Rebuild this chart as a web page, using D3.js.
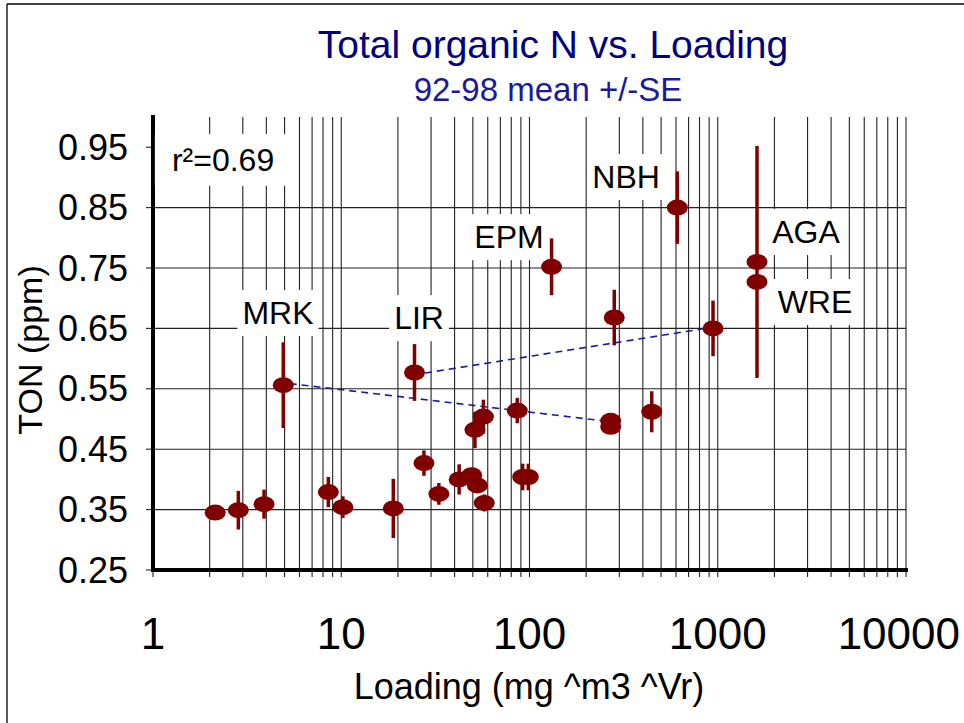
<!DOCTYPE html>
<html>
<head>
<meta charset="utf-8">
<script src="https://cdn.jsdelivr.net/npm/d3@7/dist/d3.min.js"></script>
<style>
  html, body { margin: 0; padding: 0; background: #fff; }
  svg { display: block; font-family: "Liberation Sans", Arial, sans-serif; }
</style>
</head>
<body>
<svg id="chart" width="964" height="723"></svg>
<script>
// ---- data ----
const loading = [2.14, 2.84, 3.89, 4.92, 8.54, 10.2, 18.9, 24.5, 27.5, 33.0, 42.3, 49.3, 52.8, 51.3, 56.9, 57.5, 86.1, 92.0, 98.6, 131, 270, 270, 282, 446, 610, 944, 1616, 1616];
const ton     = [0.345, 0.349, 0.359, 0.556, 0.379, 0.354, 0.352, 0.577, 0.427, 0.376, 0.400, 0.407, 0.390, 0.482, 0.504, 0.361, 0.514, 0.404, 0.404, 0.752, 0.497, 0.487, 0.668, 0.512, 0.850, 0.650, 0.760, 0.727];
const se      = [0.006, 0.032, 0.024, 0.071, 0.025, 0.018, 0.049, 0.047, 0.021, 0.018, 0.025, 0.012, 0.012, 0.030, 0.028, 0.014, 0.021, 0.022, 0.022, 0.047, 0.010, 0.010, 0.046, 0.034, 0.060, 0.046, 0.192, 0.010];

const siteLabels = ["MRK", "LIR", "EPM", "NBH", "AGA", "WRE"];
const siteLabelX = [4.61, 25.9, 77.8, 326, 2943, 3285];
const siteLabelY = [0.6755, 0.667, 0.801, 0.9007, 0.8096, 0.6937];

const trendA = [[4.6, 0.561], [315, 0.493]];
const trendB = [[24.1, 0.573], [944, 0.652]];

const xTickValues = [1, 10, 100, 1000, 10000];
const xTickLabels = ["1", "10", "100", "1000", "10000"];
const yTickValues = [0.25, 0.35, 0.45, 0.55, 0.65, 0.75, 0.85, 0.95];
const yGridValues = [0.35, 0.45, 0.55, 0.65, 0.75, 0.85];
const rsqText = "r²=0.69";
const rsqPos = [1.26, 0.929];

// ---- layout ----
const svg = d3.select("#chart");
const x = d3.scaleLog().domain([1, 10000]).range([153, 906]);
const y = d3.scaleLinear().domain([0.25, 1.0]).range([570, 117]);

// outer frame (left + top)
svg.append("line").attr("x1", 7).attr("x2", 7).attr("y1", 4).attr("y2", 723).attr("stroke", "#000").attr("stroke-width", 1.3);
svg.append("line").attr("x1", 7).attr("x2", 964).attr("y1", 4).attr("y2", 4).attr("stroke", "#000").attr("stroke-width", 1.3);

// minor log values
const logGrid = [];
for (let k = 0; k < 4; k++) for (let m = 2; m <= 10; m++) logGrid.push(m * Math.pow(10, k));

const grid = svg.append("g").attr("stroke", "#222").attr("stroke-width", 1.1);
grid.selectAll("line.v").data(logGrid).join("line").attr("class", "v")
  .attr("x1", d => x(d)).attr("x2", d => x(d))
  .attr("y1", y(1.0)).attr("y2", y(0.25));
grid.selectAll("line.h").data(yGridValues).join("line").attr("class", "h")
  .attr("x1", x(1)).attr("x2", x(10000))
  .attr("y1", d => y(d)).attr("y2", d => y(d));

// bottom ticks
svg.append("g").attr("stroke", "#222").attr("stroke-width", 1.1)
  .selectAll("line").data([1].concat(logGrid)).join("line")
  .attr("x1", d => x(d)).attr("x2", d => x(d))
  .attr("y1", y(0.25)).attr("y2", y(0.25) + 7);

// left ticks
svg.append("g").attr("stroke", "#222").attr("stroke-width", 1.1)
  .selectAll("line").data(yTickValues).join("line")
  .attr("x1", x(1) - 7).attr("x2", x(1))
  .attr("y1", d => y(d)).attr("y2", d => y(d));

// axis lines
svg.append("line").attr("x1", x(1)).attr("x2", x(1)).attr("y1", 115).attr("y2", y(0.25) + 2).attr("stroke", "#000").attr("stroke-width", 4);
svg.append("line").attr("x1", x(1) - 2).attr("x2", x(10000) + 2).attr("y1", y(0.25)).attr("y2", y(0.25)).attr("stroke", "#000").attr("stroke-width", 4);

// label boxes + text
function boxedText(tx, ty, txt, anchor, padX, padY) {
  const g = svg.append("g");
  const t = g.append("text").attr("x", tx).attr("y", ty)
    .attr("text-anchor", anchor).attr("dominant-baseline", "central")
    .attr("font-size", 32).attr("fill", "#000").text(txt);
  const b = t.node().getBBox();
  g.insert("rect", "text").attr("x", b.x - padX).attr("y", b.y - padY)
    .attr("width", b.width + 2 * padX).attr("height", b.height + 2 * padY).attr("fill", "#fff");
}
siteLabels.forEach((s, i) => boxedText(x(siteLabelX[i]), y(siteLabelY[i]), s, "middle", 5, 5));
boxedText(x(rsqPos[0]), y(rsqPos[1]), rsqText, "start", 17, 8);

// trend lines
const line = d3.line().x(d => x(d[0])).y(d => y(d[1]));
[trendA, trendB].forEach(t => {
  svg.append("path").attr("d", line(t)).attr("fill", "none")
    .attr("stroke", "#1a1a9a").attr("stroke-width", 1.6).attr("stroke-dasharray", "7,5");
});

// error bars and points
const idx = d3.range(loading.length);
svg.append("g").selectAll("line").data(idx).join("line")
  .attr("x1", i => x(loading[i])).attr("x2", i => x(loading[i]))
  .attr("y1", i => y(ton[i] + se[i])).attr("y2", i => y(ton[i] - se[i]))
  .attr("stroke", "#800000").attr("stroke-width", 3.5);
svg.append("g").selectAll("ellipse").data(idx).join("ellipse")
  .attr("cx", i => x(loading[i])).attr("cy", i => y(ton[i]))
  .attr("rx", 10.5).attr("ry", 8).attr("fill", "#800000");

// tick labels
svg.append("g").selectAll("text").data(yTickValues).join("text")
  .attr("x", 128).attr("y", d => y(d)).attr("dominant-baseline", "central")
  .attr("text-anchor", "end").attr("font-size", 36).attr("fill", "#000")
  .text(d => d.toFixed(2));
svg.append("g").selectAll("text").data(xTickValues).join("text")
  .attr("x", d => x(d)).attr("y", 649).attr("text-anchor", "middle")
  .attr("font-size", 44).attr("fill", "#000")
  .text((d, i) => xTickLabels[i])
  .each(function () {
    const b = this.getBBox();
    const over = b.x + b.width - 960;
    if (over > 0) d3.select(this).attr("x", +d3.select(this).attr("x") - over);
  });

// titles
svg.append("text").attr("x", 553).attr("y", 58).attr("text-anchor", "middle")
  .attr("font-size", 39).attr("fill", "#000080").text("Total organic N vs. Loading");
svg.append("text").attr("x", 548).attr("y", 101).attr("text-anchor", "middle")
  .attr("font-size", 33).attr("fill", "#1a1a9a").text("92-98 mean +/-SE");
svg.append("text").attr("x", 529).attr("y", 699).attr("text-anchor", "middle")
  .attr("font-size", 36).attr("fill", "#000").text("Loading (mg ^m3 ^Vr)");
svg.append("text").attr("transform", "translate(42,350) rotate(-90)").attr("text-anchor", "middle")
  .attr("font-size", 34).attr("fill", "#000").text("TON (ppm)");
</script>
</body>
</html>
